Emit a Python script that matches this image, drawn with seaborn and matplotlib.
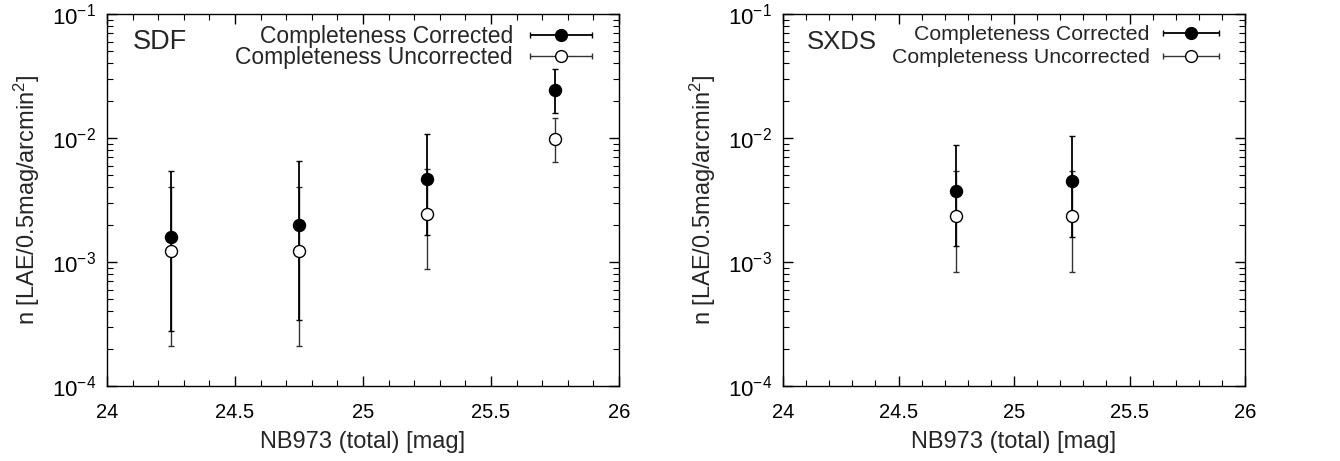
import numpy as np
import pandas as pd
import matplotlib
matplotlib.use("Agg")
import matplotlib.pyplot as plt
import seaborn as sns
from matplotlib.ticker import MultipleLocator, LogLocator, NullFormatter, FixedLocator, FixedFormatter
from matplotlib.legend_handler import HandlerErrorbar

# ---------------- data ----------------
sdf_mag = [24.25, 24.75, 25.25, 25.75]
sdf_corr = [1.6e-3, 2.0e-3, 4.67e-3, 2.44e-2]
sdf_corr_lo = [2.8e-4, 3.4e-4, 1.65e-3, 1.58e-2]
sdf_corr_hi = [5.4e-3, 6.5e-3, 1.08e-2, 3.6e-2]
sdf_unc = [1.23e-3, 1.23e-3, 2.44e-3, 9.75e-3]
sdf_unc_lo = [2.1e-4, 2.1e-4, 8.7e-4, 6.37e-3]
sdf_unc_hi = [4.0e-3, 4.0e-3, 5.6e-3, 1.44e-2]

sxds_mag = [24.75, 25.25]
sxds_corr = [3.76e-3, 4.5e-3]
sxds_corr_lo = [1.35e-3, 1.6e-3]
sxds_corr_hi = [8.73e-3, 1.045e-2]
sxds_unc = [2.35e-3, 2.35e-3]
sxds_unc_lo = [8.35e-4, 8.35e-4]
sxds_unc_hi = [5.44e-3, 5.44e-3]

xticks = [24, 24.5, 25, 25.5, 26]
xtick_labels = ["24", "24.5", "25", "25.5", "26"]
field_names = ["SDF", "SXDS"]
legend_labels = ["Completeness Corrected", "Completeness Uncorrected"]
xlabel = "NB973 (total) [mag]"
ylabel = r"n [LAE/0.5mag/arcmin$^2$]"

# ---------------- style ----------------
sns.set_theme(style="ticks")
plt.rcParams["font.family"] = ["Liberation Sans", "DejaVu Sans"]
plt.rcParams["mathtext.fontset"] = "custom"
plt.rcParams["mathtext.rm"] = "Liberation Sans"
plt.rcParams["mathtext.it"] = "Liberation Sans:italic"
plt.rcParams["mathtext.bf"] = "Liberation Sans:bold"

fig = plt.figure(figsize=(13.4, 4.61), dpi=100)
ax1 = fig.add_axes([107/1340, 1-386/461, (619-107)/1340, (386-14)/461])
ax2 = fig.add_axes([783/1340, 1-386/461, (1245-783)/1340, (386-14)/461])

# per-panel layout: (text x, name size, legend size, legend right edge, handle len, xerr size, textpad, spacing)
panels = [
    (ax1, field_names[0], sdf_mag, sdf_corr, sdf_corr_lo, sdf_corr_hi, sdf_unc, sdf_unc_lo, sdf_unc_hi,
     (0.051, 19.5, 16.5, 0.947, 2.7, 1.35, 0.74, -0.11)),
    (ax2, field_names[1], sxds_mag, sxds_corr, sxds_corr_lo, sxds_corr_hi, sxds_unc, sxds_unc_lo, sxds_unc_hi,
     (0.052, 18.5, 15.3, 0.944, 2.63, 1.315, 0.65, 0.19)),
]

for ax, name, mag, c, clo, chi, u, ulo, uhi, lay in panels:
    tx, nsize, lsize, lx, hl, xs, htp, lsp = lay
    c = np.array(c); clo = np.array(clo); chi = np.array(chi)
    u = np.array(u); ulo = np.array(ulo); uhi = np.array(uhi)
    ax.errorbar(mag, u, yerr=[u - ulo, uhi - u], fmt="none", ecolor="#333333",
                elinewidth=1.0, capsize=2.5, capthick=1.0, zorder=2)
    ax.errorbar(mag, c, yerr=[c - clo, chi - c], fmt="none", ecolor="black",
                elinewidth=1.3, capsize=2.5, capthick=1.0, zorder=3)
    df_u = pd.DataFrame({"mag": mag, "n": u})
    df_c = pd.DataFrame({"mag": mag, "n": c})
    sns.scatterplot(data=df_u, x="mag", y="n", ax=ax, marker="o", s=75,
                    facecolors="white", edgecolors="black", linewidth=1.0, zorder=4)
    sns.scatterplot(data=df_c, x="mag", y="n", ax=ax, marker="o", s=75,
                    color="black", edgecolor="black", linewidth=1.0, zorder=5)

    ax.set_yscale("log")
    ax.set_xlim(24, 26)
    ax.set_ylim(1e-4, 1e-1)
    ax.xaxis.set_major_locator(FixedLocator(xticks))
    ax.xaxis.set_major_formatter(FixedFormatter(xtick_labels))
    ax.xaxis.set_minor_locator(MultipleLocator(0.1))
    ax.yaxis.set_major_locator(LogLocator(base=10, numticks=10))
    ax.yaxis.set_minor_locator(LogLocator(base=10, subs=np.arange(2, 10), numticks=20))
    ax.yaxis.set_minor_formatter(NullFormatter())
    ax.tick_params(which="both", direction="in", top=True, right=True, colors="black")
    ax.tick_params(which="major", length=7, width=1.0)
    ax.tick_params(axis="x", which="major", pad=12, labelsize=14.5)
    ax.tick_params(axis="y", which="major", pad=8, labelsize=16)
    ax.tick_params(which="minor", length=4, width=0.8)
    for sp in ax.spines.values():
        sp.set_visible(True)
        sp.set_linewidth(1.0)
        sp.set_color("black")
    ax.set_xlabel(xlabel, fontsize=17, labelpad=7)
    ax.set_ylabel(ylabel, fontsize=17, labelpad=7)
    ax.text(tx, 0.925, name, transform=ax.transAxes,
            fontsize=nsize, ha="left", va="center")

    # legend with horizontal error-bar samples
    h1 = ax.errorbar([np.nan], [np.nan], xerr=[1], fmt="o", color="black",
                     markerfacecolor="black", markeredgecolor="black", markersize=8.5,
                     elinewidth=1.3, capsize=2.5, label=legend_labels[0])
    h2 = ax.errorbar([np.nan], [np.nan], xerr=[1], fmt="o", color="#333333",
                     markerfacecolor="white", markeredgecolor="black", markersize=8.5,
                     elinewidth=1.0, capsize=2.5, label=legend_labels[1])
    leg = ax.legend(handles=[h1, h2], labels=legend_labels, loc="upper right",
                    bbox_to_anchor=(lx, 0.97), frameon=False, fontsize=lsize,
                    markerfirst=False, handlelength=hl, handletextpad=htp,
                    labelspacing=lsp, borderpad=0, borderaxespad=0,
                    handler_map={type(h1): HandlerErrorbar(xerr_size=xs)})

fig.savefig("out.png", dpi=100)
